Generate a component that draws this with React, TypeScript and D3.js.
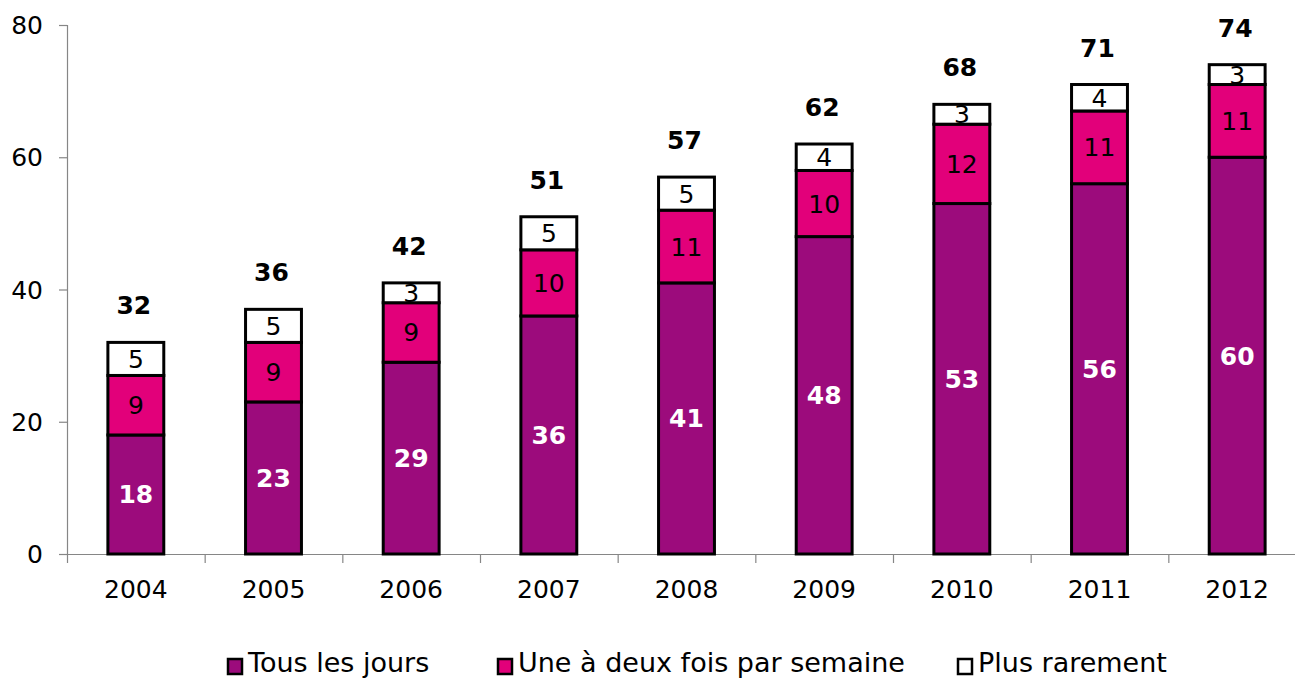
// App.tsx
import React, { useEffect, useRef } from 'react';
import * as d3 from 'd3';

const years = ['2004', '2005', '2006', '2007', '2008', '2009', '2010', '2011', '2012'];
const tousLesJours = [18, 23, 29, 36, 41, 48, 53, 56, 60];
const uneADeux = [9, 9, 9, 10, 11, 10, 12, 11, 11];
const plusRarement = [5, 5, 3, 5, 5, 4, 3, 4, 3];
const totals = [32, 36, 42, 51, 57, 62, 68, 71, 74];
const yTicks = [0, 20, 40, 60, 80];

const seriesNames = ['Tous les jours', 'Une à deux fois par semaine', 'Plus rarement'];
const seriesColors = ['#9c0b7c', '#e2007a', '#ffffff'];
const labelColors = ['#ffffff', '#000000', '#000000'];
const labelWeights = ['bold', 'normal', 'normal'];

const App = () => {
  const ref = useRef<SVGSVGElement | null>(null);
  const width = 1295;
  const height = 679;
  const font = '"DejaVu Sans", Verdana, sans-serif';

  useEffect(() => {
    if (!ref.current) return;
    const svg = d3.select(ref.current);
    svg.selectAll('*').remove();

    const x = d3.scaleBand().domain(years).range([67, 1306]).padding(0);
    const y = d3.scaleLinear().domain([0, 80]).range([554, 25]);
    const barW = x.bandwidth() * 0.406;

    const rows = years.map((yr, i) => ({
      year: yr,
      s0: tousLesJours[i],
      s1: uneADeux[i],
      s2: plusRarement[i],
    }));
    const stack = d3.stack<any>().keys(['s0', 's1', 's2']);
    const layers = stack(rows);

    // axes
    const axisColor = '#868686';
    const g = svg.append('g');
    g.append('line')
      .attr('x1', 67).attr('x2', 1306)
      .attr('y1', y(0) + 0.5).attr('y2', y(0) + 0.5)
      .attr('stroke', axisColor).attr('stroke-width', 1.2);
    g.append('line')
      .attr('x1', 67.5).attr('x2', 67.5)
      .attr('y1', y(80)).attr('y2', y(0))
      .attr('stroke', axisColor).attr('stroke-width', 1.2);

    yTicks.forEach(t => {
      g.append('line')
        .attr('x1', 59).attr('x2', 67)
        .attr('y1', y(t) + 0.5).attr('y2', y(t) + 0.5)
        .attr('stroke', axisColor).attr('stroke-width', 1.2);
      g.append('text')
        .attr('x', 43).attr('y', y(t))
        .attr('dy', '0.36em')
        .attr('text-anchor', 'end')
        .style('font-family', font).style('font-size', '25px')
        .attr('fill', '#000')
        .text(t);
    });

    years.forEach((yr) => {
      const x0 = (x(yr) as number);
      g.append('line')
        .attr('x1', x0 + 0.5).attr('x2', x0 + 0.5)
        .attr('y1', y(0)).attr('y2', y(0) + 9)
        .attr('stroke', axisColor).attr('stroke-width', 1.2);
      g.append('text')
        .attr('x', x0 + x.bandwidth() / 2).attr('y', 598)
        .attr('text-anchor', 'middle')
        .style('font-family', font).style('font-size', '25px')
        .attr('fill', '#000')
        .text(yr);
    });

    // bars
    layers.forEach((layer, li) => {
      svg.append('g').selectAll('rect')
        .data(layer)
        .join('rect')
        .attr('x', (d: any) => (x(d.data.year) as number) + (x.bandwidth() - barW) / 2)
        .attr('width', barW)
        .attr('y', d => y(d[1]))
        .attr('height', d => y(d[0]) - y(d[1]))
        .attr('fill', seriesColors[li])
        .attr('stroke', '#000')
        .attr('stroke-width', 3);
    });

    layers.forEach((layer, li) => {
      svg.append('g').selectAll('text')
        .data(layer)
        .join('text')
        .attr('x', (d: any) => (x(d.data.year) as number) + x.bandwidth() / 2)
        .attr('y', d => (y(d[0]) + y(d[1])) / 2)
        .attr('dy', '0.36em')
        .attr('text-anchor', 'middle')
        .style('font-family', font).style('font-size', '25px')
        .style('font-weight', labelWeights[li])
        .attr('fill', labelColors[li])
        .text(d => d[1] - d[0]);
    });

    // totals
    svg.append('g').selectAll('text')
      .data(years)
      .join('text')
      .attr('x', d => (x(d) as number) + x.bandwidth() / 2 - 2)
      .attr('y', (d, i) => y(layers[2][i][1]) - 28)
      .attr('text-anchor', 'middle')
      .style('font-family', font).style('font-size', '25px')
      .style('font-weight', 'bold')
      .attr('fill', '#000')
      .text((d, i) => totals[i]);

    // legend
    const legendX = [227, 497, 957];
    const leg = svg.append('g');
    seriesNames.forEach((name, i) => {
      leg.append('rect')
        .attr('x', legendX[i] + 1).attr('y', 659)
        .attr('width', 14).attr('height', 15)
        .attr('fill', seriesColors[i])
        .attr('stroke', '#000').attr('stroke-width', 2.5);
      leg.append('text')
        .attr('x', legendX[i] + 21).attr('y', 672)
        .style('font-family', font).style('font-size', '27px')
        .attr('fill', '#000')
        .text(name);
    });
  }, []);

  return (
    <svg
      ref={ref}
      width={width}
      height={height}
      style={{ position: 'absolute', left: 0, top: 0, background: '#fff' }}
    />
  );
};

export default App;
